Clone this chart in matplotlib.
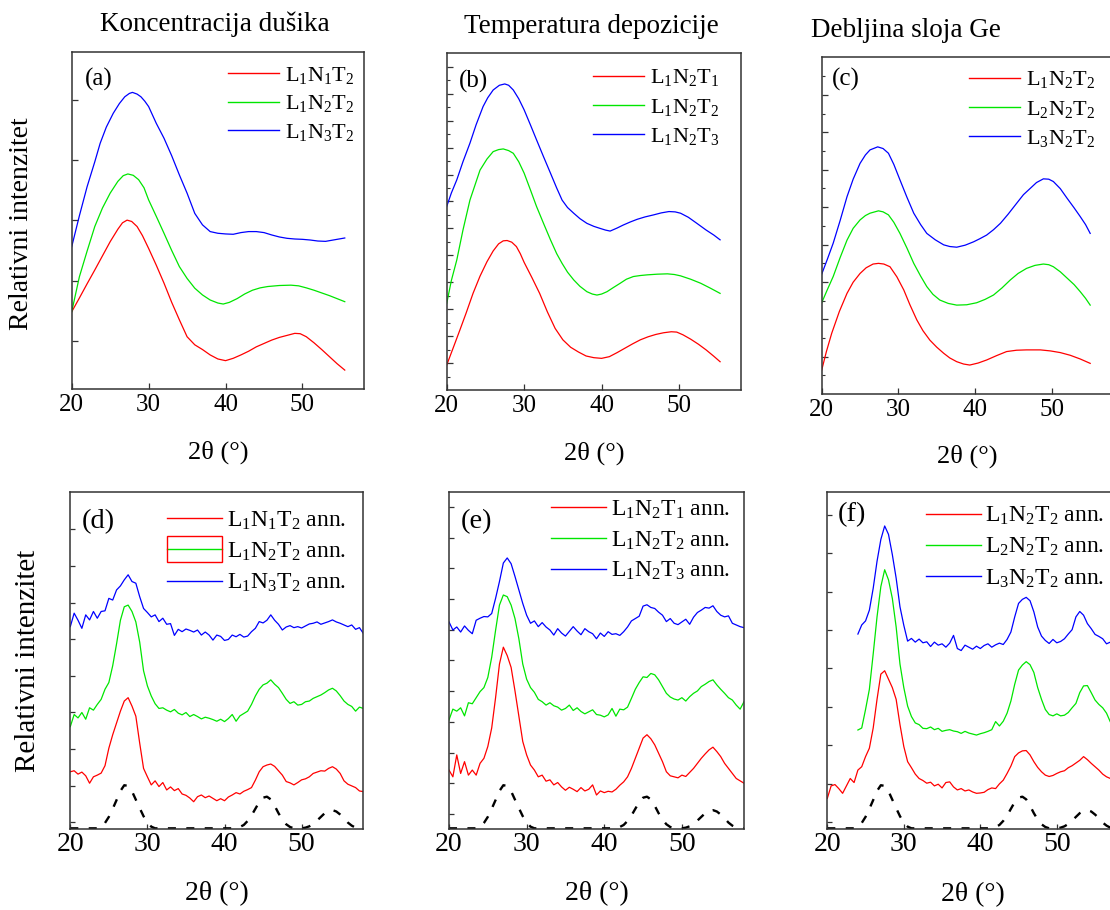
import matplotlib
matplotlib.use("Agg")
import matplotlib.pyplot as plt
from matplotlib.lines import Line2D
from matplotlib.patches import Rectangle

plt.rcParams['font.family'] = ['Liberation Serif', 'DejaVu Serif']
plt.rcParams['mathtext.fontset'] = 'custom'
plt.rcParams['mathtext.rm'] = 'Liberation Serif'
plt.rcParams['mathtext.it'] = 'Liberation Serif:italic'

# ---------------- data: as-deposited (top row) ----------------
a_red_x = [20.0, 21.0, 22.0, 23.0, 24.0, 25.0, 26.0, 26.6, 27.2, 27.8, 28.5, 29.2, 30.0, 31.0, 32.0, 33.0, 34.0, 35.0, 36.0, 37.0, 38.0, 39.0, 40.0, 41.0, 42.0, 43.0, 44.0, 45.0, 46.0, 47.0, 48.0, 49.0, 49.7, 50.5, 51.5, 52.5, 53.5, 54.5, 55.5]
a_red_y = [23.0, 27.1, 31.3, 35.4, 39.6, 43.8, 47.5, 49.4, 50.2, 49.8, 48.3, 45.6, 41.8, 36.8, 31.5, 25.8, 20.6, 15.6, 13.2, 11.8, 10.2, 9.0, 8.5, 9.2, 10.2, 11.3, 12.6, 13.6, 14.6, 15.4, 16.0, 16.6, 16.5, 15.6, 13.8, 11.8, 9.7, 7.6, 5.7]
a_green_x = [20.0, 21.0, 22.0, 23.0, 24.0, 25.0, 26.0, 26.7, 27.3, 28.0, 28.7, 29.4, 30.0, 31.0, 32.0, 33.0, 34.0, 35.0, 36.0, 37.0, 38.0, 39.0, 39.7, 40.5, 41.5, 42.5, 43.5, 44.5, 45.5, 47.0, 48.5, 49.5, 50.5, 51.5, 52.5, 53.5, 54.5, 55.5]
a_green_y = [23.0, 33.4, 41.0, 48.3, 53.8, 58.2, 61.7, 63.4, 63.9, 63.5, 62.2, 59.8, 56.2, 51.3, 46.3, 41.2, 36.4, 32.9, 30.0, 28.0, 26.5, 25.6, 25.3, 25.8, 26.9, 28.3, 29.4, 30.1, 30.5, 30.8, 30.9, 30.7, 30.1, 29.4, 28.6, 27.8, 26.9, 26.0]
a_blue_x = [20.0, 21.0, 22.0, 23.0, 23.7, 24.5, 25.4, 26.2, 26.9, 27.5, 27.9, 28.5, 29.0, 29.5, 30.0, 31.0, 32.0, 33.0, 34.0, 35.0, 36.0, 37.0, 38.0, 39.0, 40.0, 41.0, 42.0, 43.0, 44.0, 45.0, 46.0, 47.0, 48.0, 49.0, 50.0, 51.0, 52.0, 53.0, 54.0, 55.5]
a_blue_y = [42.3, 51.5, 60.1, 67.5, 73.0, 77.8, 81.9, 84.8, 86.8, 87.8, 88.1, 87.6, 86.8, 85.5, 83.9, 78.9, 74.5, 69.3, 63.6, 58.2, 52.2, 48.8, 46.8, 46.3, 46.1, 46.0, 46.5, 46.8, 46.8, 46.5, 45.8, 45.2, 44.8, 44.6, 44.5, 44.3, 44.0, 43.9, 44.3, 44.9]

b_red_x = [20.0, 21.0, 21.7, 22.5, 23.4, 24.3, 25.2, 26.0, 26.7, 27.3, 27.8, 28.4, 29.0, 29.5, 30.0, 31.0, 32.0, 33.0, 34.0, 35.0, 36.0, 37.0, 38.0, 39.0, 40.0, 41.0, 42.0, 43.0, 44.0, 45.0, 46.0, 47.0, 48.0, 49.0, 49.7, 50.5, 51.5, 52.5, 53.5, 54.5, 55.3]
b_red_y = [7.4, 13.5, 17.8, 22.8, 28.7, 33.8, 38.1, 41.3, 43.4, 44.3, 44.4, 43.9, 42.6, 40.5, 37.9, 33.4, 28.7, 23.2, 18.3, 14.9, 12.7, 11.3, 10.1, 9.6, 9.4, 9.9, 11.1, 12.4, 13.7, 14.9, 15.8, 16.5, 17.0, 17.3, 17.2, 16.4, 15.1, 13.6, 11.9, 10.0, 8.4]
b_green_x = [20.0, 20.6, 21.3, 22.1, 23.0, 24.3, 25.2, 26.0, 26.7, 27.3, 28.0, 28.6, 29.3, 30.0, 30.8, 31.6, 32.5, 33.4, 34.2, 34.9, 35.6, 36.4, 37.2, 38.1, 38.8, 39.4, 40.0, 40.7, 41.5, 42.4, 43.2, 44.1, 45.0, 45.9, 47.2, 48.5, 49.4, 50.2, 51.5, 52.8, 54.0, 55.3]
b_green_y = [25.7, 32.5, 38.6, 47.5, 56.4, 65.3, 68.6, 70.8, 71.4, 71.6, 71.1, 70.3, 67.8, 64.4, 59.5, 54.5, 49.5, 44.6, 40.5, 37.6, 35.0, 32.7, 30.8, 29.2, 28.5, 28.2, 28.5, 29.2, 30.4, 31.7, 32.9, 33.7, 34.0, 34.2, 34.4, 34.5, 34.3, 33.9, 32.9, 31.7, 30.3, 28.7]
b_blue_x = [20.0, 20.6, 21.3, 22.1, 23.0, 23.8, 24.7, 25.3, 26.0, 26.8, 27.5, 28.0, 28.6, 29.3, 30.0, 30.8, 31.6, 32.5, 33.4, 34.2, 34.9, 35.6, 36.4, 37.2, 38.1, 39.0, 39.8, 40.5, 41.1, 42.0, 42.8, 43.7, 44.6, 45.6, 46.7, 47.7, 48.7, 49.5, 50.2, 51.2, 52.3, 53.5, 54.5, 55.3]
b_blue_y = [54.5, 58.5, 62.4, 67.8, 73.3, 78.8, 84.2, 86.8, 89.1, 90.5, 90.9, 90.5, 89.1, 86.5, 83.2, 78.8, 74.3, 69.3, 64.4, 60.0, 56.4, 54.2, 52.5, 50.9, 49.5, 48.6, 48.0, 47.5, 47.2, 48.1, 49.0, 49.9, 50.7, 51.4, 52.0, 52.6, 53.0, 52.9, 52.5, 51.3, 49.5, 47.5, 46.0, 44.6]

c_red_x = [20.0, 20.6, 21.3, 22.3, 23.3, 24.1, 25.0, 25.8, 26.7, 27.4, 28.1, 28.9, 29.8, 30.7, 31.5, 32.4, 33.2, 34.1, 35.0, 35.9, 36.7, 37.6, 38.5, 39.3, 40.4, 41.5, 42.8, 44.1, 45.4, 46.7, 48.5, 49.8, 51.1, 52.4, 53.7, 55.0]
c_red_y = [7.1, 12.5, 18.0, 24.5, 29.9, 33.2, 35.8, 37.5, 38.6, 38.8, 38.6, 37.8, 34.8, 30.9, 26.5, 22.0, 18.8, 16.0, 13.9, 12.1, 10.7, 9.6, 8.9, 8.6, 9.2, 10.1, 11.4, 12.6, 13.0, 13.1, 13.1, 12.8, 12.3, 11.5, 10.4, 9.1]
c_green_x = [20.0, 20.7, 21.5, 22.4, 23.3, 24.1, 25.0, 25.7, 26.3, 27.4, 28.0, 28.7, 29.4, 30.2, 31.1, 32.0, 32.9, 33.7, 34.5, 35.4, 36.5, 37.6, 38.9, 40.2, 41.3, 42.4, 43.5, 44.6, 45.6, 46.7, 47.8, 48.9, 49.6, 50.2, 51.1, 52.0, 52.9, 53.7, 54.4, 55.0]
c_green_y = [27.1, 30.8, 34.9, 40.5, 45.7, 49.2, 51.7, 53.0, 53.7, 54.4, 54.1, 53.2, 51.0, 47.7, 43.4, 38.8, 35.0, 31.9, 29.6, 27.9, 26.9, 26.4, 26.5, 27.1, 28.1, 29.4, 31.5, 33.9, 35.8, 37.3, 38.2, 38.6, 38.4, 37.8, 36.3, 34.4, 32.5, 30.4, 28.4, 26.4]
c_blue_x = [20.0, 20.7, 21.5, 22.4, 23.3, 24.1, 25.0, 25.7, 26.3, 27.3, 28.0, 28.7, 29.4, 30.2, 31.1, 32.0, 32.9, 33.7, 34.8, 35.9, 36.7, 37.6, 38.7, 39.8, 40.6, 41.5, 42.4, 43.3, 44.3, 45.4, 46.3, 47.2, 48.0, 48.9, 49.6, 50.2, 51.1, 52.0, 52.9, 53.7, 54.4, 55.0]
c_blue_y = [35.6, 39.8, 44.8, 51.5, 58.6, 63.8, 68.5, 71.0, 72.5, 73.4, 72.9, 71.5, 68.2, 63.6, 58.5, 53.7, 50.3, 47.7, 45.8, 44.3, 43.8, 43.6, 44.2, 45.2, 46.1, 47.2, 48.8, 50.7, 53.4, 56.6, 59.2, 61.1, 62.8, 63.9, 63.8, 63.1, 61.0, 58.1, 55.3, 52.7, 50.3, 47.7]

# ---------------- data: annealed (bottom row) ----------------
two_theta_ann = [20.0, 20.5, 21.0, 21.5, 22.0, 22.5, 23.0, 23.5, 24.0, 24.5, 25.0, 25.5, 26.0, 26.5, 27.0, 27.5,
                 28.0, 28.5, 29.0, 29.5, 30.0, 30.5, 31.0, 31.5, 32.0, 32.5, 33.0, 33.5, 34.0, 34.5, 35.0, 35.5,
                 36.0, 36.5, 37.0, 37.5, 38.0, 38.5, 39.0, 39.5, 40.0, 40.5, 41.0, 41.5, 42.0, 42.5, 43.0, 43.5,
                 44.0, 44.5, 45.0, 45.5, 46.0, 46.5, 47.0, 47.5, 48.0, 48.5, 49.0, 49.5, 50.0, 50.5, 51.0, 51.5,
                 52.0, 52.5, 53.0, 53.5, 54.0, 54.5, 55.0, 55.5, 56.0, 56.5, 57.0, 57.5, 58.0]

d_red = [17.0, 17.3, 16.3, 16.9, 15.8, 13.6, 15.5, 16.0, 16.6, 18.8, 24.0, 28.0, 31.5, 35.0, 38.0, 39.0,
         36.5, 33.5, 25.5, 18.0, 15.5, 13.1, 14.3, 12.6, 13.8, 11.6, 12.5, 11.4, 12.0, 10.4, 10.0, 9.2,
         8.1, 9.6, 10.1, 9.3, 9.8, 9.1, 8.4, 9.0, 8.4, 9.5, 10.1, 10.8, 10.4, 11.2, 11.7, 12.3,
         14.5, 17.0, 18.5, 19.0, 19.3, 18.6, 17.3, 16.0, 14.1, 13.7, 13.1, 13.8, 14.6, 14.9, 15.5, 16.5,
         16.9, 17.3, 17.2, 18.0, 18.5, 17.8, 16.5, 14.3, 13.3, 12.8, 12.3, 11.3, 11.1]
d_green = [30.4, 34.0, 33.0, 34.6, 32.6, 36.0, 35.3, 37.0, 38.5, 41.5, 43.5, 48.5, 55.0, 62.0, 66.0, 66.5,
           64.6, 61.5, 55.5, 47.0, 42.5, 39.5, 37.2, 35.8, 36.0, 35.3, 34.8, 35.5, 34.4, 33.9, 34.6, 33.4,
           34.0, 33.4, 32.7, 33.2, 32.9, 32.5, 32.0, 32.6, 31.9, 32.8, 34.0, 32.0, 33.6, 34.3, 35.0, 37.0,
           39.5, 41.5, 42.8, 43.3, 44.3, 43.0, 42.0, 40.3, 38.5, 37.3, 37.8, 36.8, 37.0, 37.8, 38.0, 38.8,
           39.3, 39.8, 40.5, 41.3, 41.8, 41.0, 39.6, 38.0, 37.0, 36.4, 35.0, 36.2, 35.8]
d_blue = [60.1, 64.1, 62.0, 59.6, 63.6, 62.1, 64.6, 62.6, 64.6, 64.8, 68.5, 68.0, 71.0, 72.2, 74.0, 75.5,
          73.5, 73.0, 69.0, 65.5, 64.3, 63.0, 63.6, 61.6, 62.6, 60.8, 61.0, 57.5, 59.3, 58.6, 59.4, 59.0,
          58.5, 59.1, 57.6, 58.5, 57.6, 56.1, 57.6, 57.2, 56.0, 56.3, 57.6, 57.1, 57.8, 57.0, 57.3, 58.6,
          59.6, 61.6, 61.2, 62.0, 63.6, 62.0, 60.8, 59.1, 60.0, 60.4, 59.8, 60.1, 59.7, 60.3, 60.9, 61.1,
          61.5, 60.8, 61.2, 61.6, 62.1, 61.5, 61.1, 60.6, 60.1, 60.6, 59.3, 59.8, 58.1]

e_red = [17.5, 15.5, 22.0, 16.5, 20.0, 16.0, 17.5, 16.0, 19.5, 21.0, 24.5, 30.0, 39.0, 49.0, 54.0, 51.5,
         48.0, 41.0, 33.5, 26.0, 22.0, 19.0, 17.5, 15.5, 16.0, 14.2, 14.6, 13.1, 13.8, 12.5, 11.5, 12.4,
         11.8, 11.1, 12.3, 11.3, 11.8, 13.1, 10.1, 11.3, 10.8, 11.2, 11.0, 11.8, 13.0, 14.0, 15.5, 18.0,
         21.0, 24.0, 27.0, 28.0, 26.8, 25.0, 22.5, 20.0, 17.0, 15.8, 15.5, 15.2, 16.0, 15.6, 16.8, 18.0,
         19.5, 21.0, 22.3, 23.5, 24.3, 23.0, 21.5, 19.5, 18.0, 16.5, 15.0, 14.3, 13.6]
e_green = [32.4, 35.6, 35.0, 36.0, 33.6, 37.5, 37.2, 39.0, 40.8, 42.0, 45.0, 51.0, 59.0, 66.5, 69.5, 69.0,
           66.5, 62.5, 56.5, 49.0, 44.5, 42.0, 40.6, 38.5, 37.8, 36.8, 37.5, 36.6, 36.2, 35.3, 35.8, 36.8,
           35.2, 36.0, 34.9, 34.2, 34.8, 35.4, 34.0, 33.8, 33.3, 33.9, 35.8, 33.5, 35.6, 35.4, 36.2, 38.8,
           41.5, 43.5, 45.2, 45.0, 46.2, 45.8, 44.3, 42.3, 40.3, 39.2, 38.6, 38.3, 39.0, 38.0, 39.3, 40.3,
           41.0, 42.3, 43.0, 43.8, 44.3, 42.8, 41.5, 40.3, 39.0, 38.3, 36.8, 35.6, 37.8]
e_blue = [61.5, 59.1, 60.0, 58.5, 60.3, 59.0, 58.0, 62.0, 62.6, 63.1, 63.0, 64.0, 68.5, 73.5, 79.0, 80.5,
          78.8, 75.0, 71.0, 67.0, 63.5, 61.1, 61.8, 60.1, 61.3, 60.0, 59.1, 57.6, 59.5, 58.2, 57.3, 58.7,
          60.1, 58.8, 57.7, 59.5, 58.6, 58.0, 56.5, 58.2, 57.2, 58.6, 57.8, 58.0, 57.5, 58.6, 60.0, 61.8,
          62.5, 63.2, 66.2, 66.6, 65.8, 65.5, 64.4, 63.5, 61.6, 62.5, 61.1, 60.7, 61.5, 62.3, 60.8, 62.9,
          64.3, 65.0, 65.8, 65.6, 66.3, 64.6, 63.5, 63.0, 63.3, 61.1, 60.6, 60.1, 59.8]

f_red = [9.1, 12.8, 13.2, 12.0, 10.6, 12.8, 15.0, 13.8, 17.5, 18.5, 21.5, 24.0, 30.0, 38.5, 46.0, 47.0,
         44.5, 42.0, 38.5, 31.0, 24.5, 20.0, 18.2, 16.3, 15.0, 14.4, 13.6, 13.9, 12.8, 13.3, 12.2, 13.8,
         14.0, 12.5, 11.6, 12.0, 11.3, 11.6, 11.0, 10.6, 10.7, 10.9, 11.7, 12.2, 12.0, 13.4, 14.5, 16.5,
         18.7, 21.5, 22.6, 23.2, 23.3, 22.0, 20.0, 18.3, 17.0, 16.0, 15.6, 15.9, 16.5, 17.0, 17.3, 18.2,
         18.8, 19.6, 20.4, 21.5, 20.6, 19.5, 18.5, 17.5, 16.3, 15.5, 15.0, 14.8, 14.5]
# green and blue in (f) start at 24 degrees
f_green = [29.4, 30.0, 35.5, 41.5, 52.0, 63.0, 72.0, 77.0,
           74.0, 68.5, 60.0, 49.0, 42.0, 36.5, 33.4, 31.5, 31.0, 29.9, 29.8, 30.3, 29.5, 29.9, 29.0, 29.3,
           29.5, 29.1, 28.9, 28.4, 29.0, 28.5, 28.2, 27.9, 28.3, 28.6, 29.0, 29.5, 31.9, 30.6, 32.0, 34.4,
           38.0, 43.0, 47.2, 48.7, 49.7, 48.8, 46.5, 42.0, 38.5, 35.5, 34.0, 33.6, 34.2, 33.6, 33.8, 34.6,
           36.0, 37.3, 40.5, 42.5, 42.6, 40.5, 38.3, 37.0, 36.0, 34.4, 31.8, 30.5, 29.5]
f_blue = [57.9, 60.6, 61.8, 65.0, 71.5, 79.5, 86.0, 90.0,
          87.5, 81.5, 74.5, 66.0, 60.5, 55.8, 56.6, 55.5, 56.4, 55.3, 55.6, 54.2, 55.5, 54.6, 55.0, 54.0,
          55.2, 57.5, 53.6, 53.0, 54.6, 54.0, 53.4, 54.3, 53.6, 54.5, 55.0, 54.0, 54.7, 55.2, 54.8, 56.3,
          58.5, 63.0, 67.0, 68.2, 68.8, 67.8, 64.5, 60.0, 57.3, 56.0, 55.1, 56.3, 55.3, 55.7, 56.5, 57.9,
          59.2, 63.0, 64.6, 63.5, 61.0, 59.5, 57.8, 57.2, 56.5, 55.0, 55.5, 54.5, 54.0]

# reference (dashed) pattern
ref_x = [20.0, 23.5, 24.0, 24.5, 25.0, 25.5, 26.0, 26.5, 27.0, 27.5, 28.0, 28.5, 29.0, 29.5, 30.0, 30.5, 31.0,
         41.0, 41.5, 42.0, 42.5, 43.0, 43.5, 44.0, 44.5, 45.0, 45.5, 46.0, 46.5, 47.0, 47.5, 48.0, 48.5, 49.0,
         50.0, 50.5, 51.0, 51.5, 52.0, 52.5, 53.0, 53.5, 54.0, 54.5, 55.0, 55.5, 56.0, 56.5, 57.0, 58.0]
ref_y = [0.2, 0.2, 0.5, 1.8, 3.6, 6.0, 8.6, 11.3, 13.0, 12.8, 11.2, 8.7, 6.2, 3.8, 1.9, 0.7, 0.2,
         0.2, 0.3, 0.6, 1.2, 2.4, 4.0, 6.0, 8.0, 9.3, 9.6, 8.8, 6.9, 4.7, 2.8, 1.4, 0.6, 0.2,
         0.2, 0.4, 0.8, 1.5, 2.5, 3.6, 4.7, 5.4, 5.6, 5.2, 4.3, 3.2, 1.9, 1.0, 0.4, 0.2]

titles = ["Koncentracija dušika", "Temperatura depozicije", "Debljina sloja Ge"]
ylabel_text = "Relativni intenzitet"
xlabel_text = "2θ (°)"
x_ticks = [20, 30, 40, 50]

labels_a = [r"$\mathrm{L_1N_1T_2}$", r"$\mathrm{L_1N_2T_2}$", r"$\mathrm{L_1N_3T_2}$"]
labels_b = [r"$\mathrm{L_1N_2T_1}$", r"$\mathrm{L_1N_2T_2}$", r"$\mathrm{L_1N_2T_3}$"]
labels_c = [r"$\mathrm{L_1N_2T_2}$", r"$\mathrm{L_2N_2T_2}$", r"$\mathrm{L_3N_2T_2}$"]
labels_d = [r"$\mathrm{L_1N_1T_2}$ ann.", r"$\mathrm{L_1N_2T_2}$ ann.", r"$\mathrm{L_1N_3T_2}$ ann."]
labels_e = [r"$\mathrm{L_1N_2T_1}$ ann.", r"$\mathrm{L_1N_2T_2}$ ann.", r"$\mathrm{L_1N_2T_3}$ ann."]
labels_f = [r"$\mathrm{L_1N_2T_2}$ ann.", r"$\mathrm{L_2N_2T_2}$ ann.", r"$\mathrm{L_3N_2T_2}$ ann."]

colors = ['#ff0000', '#00e600', '#0000ff']

# ---------------- layout ----------------
W, H = 1110, 910
fig = plt.figure(figsize=(W / 100, H / 100), dpi=100)


def add_ax(l, t, r, b):
    return fig.add_axes([l / W, 1 - b / H, (r - l) / W, (b - t) / H])


def style(ax, major, minor, tick_fs, tick_len, pad):
    ax.set_xlim(20, 58)
    ax.set_ylim(0, 100)
    ax.set_xticks(x_ticks)
    ax.set_xticklabels([str(v) for v in x_ticks])
    ax.set_yticks(major)
    ax.set_yticks(minor, minor=True)
    ax.tick_params(axis='both', which='major', direction='in', length=tick_len, width=0.9,
                   color='#333333', labelsize=tick_fs, pad=pad, labelleft=False)
    ax.tick_params(axis='y', which='minor', direction='in', length=2.2, width=0.8, color='#333333')
    ax.tick_params(axis='x', which='minor', bottom=False)
    for s in ax.spines.values():
        s.set_color('#333333')
        s.set_linewidth(1.1)


def add_legend(ax, labels, hx, my, fs, hl, htp, ls):
    handles = [Line2D([], [], color=c, lw=1.0) for c in colors]
    return ax.legend(handles, labels, loc='center left', bbox_to_anchor=(hx / W, 1 - my / H),
                     bbox_transform=fig.transFigure, frameon=False, borderpad=0, borderaxespad=0,
                     handlelength=hl, handletextpad=htp, labelspacing=ls, fontsize=fs)


lw = 0.9
dash_style = (0, (3.4, 4.4))
# top row
ax_a = add_ax(71.7, 52.3, 364.0, 389.3)
ax_b = add_ax(446.7, 53.3, 741.0, 390.0)
ax_c = add_ax(821.7, 57.3, 1113.2, 394.0)
# bottom row
ax_d = add_ax(70.3, 492.3, 363.3, 829.0)
ax_e = add_ax(449.0, 492.3, 744.0, 829.0)
ax_f = add_ax(827.3, 492.3, 1118.0, 829.0)

for ax, xs, ys in [(ax_a, [a_red_x, a_green_x, a_blue_x], [a_red_y, a_green_y, a_blue_y]),
                   (ax_b, [b_red_x, b_green_x, b_blue_x], [b_red_y, b_green_y, b_blue_y]),
                   (ax_c, [c_red_x, c_green_x, c_blue_x], [c_red_y, c_green_y, c_blue_y])]:
    for x, y, c in zip(xs, ys, colors):
        ax.plot(x, y, color=c, lw=lw)

for ax, ys in [(ax_d, [d_red, d_green, d_blue]), (ax_e, [e_red, e_green, e_blue])]:
    ax.plot(ref_x, ref_y, color='black', lw=1.7, linestyle=dash_style)
    for y, c in zip(ys, colors):
        ax.plot(two_theta_ann, y, color=c, lw=lw)

ax_f.plot(ref_x, ref_y, color='black', lw=1.7, linestyle=dash_style)
ax_f.plot(two_theta_ann, f_red, color=colors[0], lw=lw)
ax_f.plot(two_theta_ann[8:], f_green, color=colors[1], lw=lw)
ax_f.plot(two_theta_ann[8:], f_blue, color=colors[2], lw=lw)

style(ax_a, [14.4 + 17.86 * k for k in range(5)], [], 18, 4.5, 3.5)
style(ax_b, [8.0 * k for k in range(1, 13)], [4.0 + 8.0 * k for k in range(12)], 18, 4.5, 3.5)
style(ax_c, [11.1 * k for k in range(1, 9)], [5.55 + 11.1 * k for k in range(9)], 18, 4.5, 3.5)
style(ax_d, [2.0 + 10.87 * k for k in range(9)], [], 20, 3.5, 2.5)
style(ax_e, [4.45 + 9.12 * k for k in range(11)], [], 20, 3.5, 2.5)
style(ax_f, [2.08 + 11.4 * k for k in range(9)], [], 20, 3.5, 2.5)

# panel letters
for ax, txt, dx, dy, fs in [(ax_a, '(a)', 13.3, 27.0, 18), (ax_b, '(b)', 12.3, 28.4, 18),
                            (ax_c, '(c)', 10.0, 21.7, 18), (ax_d, '(d)', 11.4, 29.4, 20.5),
                            (ax_e, '(e)', 12.0, 29.4, 20.5), (ax_f, '(f)', 10.0, 22.7, 20.5)]:
    bb = ax.get_position()
    wpx, hpx = bb.width * W, bb.height * H
    ax.text(dx / wpx, 1 - dy / hpx, txt, transform=ax.transAxes, ha='left', va='center', fontsize=fs)

# x labels
for ax, dy, fs in [(ax_a, 62.5, 19), (ax_b, 63.3, 19), (ax_c, 62.7, 19),
                   (ax_d, 64.3, 20), (ax_e, 64.3, 20), (ax_f, 66.0, 20)]:
    bb = ax.get_position()
    ax.text(0.5, -dy / (bb.height * H), xlabel_text, transform=ax.transAxes,
            ha='center', va='center', fontsize=fs)

# titles
fig.text(215 / W, 1 - 31 / H, titles[0], ha='center', va='baseline', fontsize=19.5)
fig.text(591.7 / W, 1 - 33.3 / H, titles[1], ha='center', va='baseline', fontsize=19.5)
fig.text(905.8 / W, 1 - 36.7 / H, titles[2], ha='center', va='baseline', fontsize=19.5)

# y labels
fig.text(21.7 / W, 1 - 223.5 / H, ylabel_text, rotation=90, ha='center', va='center', fontsize=20)
fig.text(28.0 / W, 1 - 661.0 / H, ylabel_text, rotation=90, ha='center', va='center', fontsize=21)

# legends
add_legend(ax_a, labels_a, 228, 104.0, 16, 2.3, 0.27, 0.34)
add_legend(ax_b, labels_b, 593, 107.3, 16, 2.3, 0.27, 0.38)
add_legend(ax_c, labels_c, 969, 109.3, 16, 2.3, 0.27, 0.38)
leg_d = add_legend(ax_d, labels_d, 167, 551.7, 17, 2.33, 0.2, 0.38)
add_legend(ax_e, labels_e, 551, 540.5, 17, 2.33, 0.2, 0.36)
add_legend(ax_f, labels_f, 925.7, 547.3, 17, 2.33, 0.2, 0.38)

# red box drawn around the second legend handle of panel (d)
fig.canvas.draw()
renderer = fig.canvas.get_renderer()
hb = leg_d.legend_handles[1].get_window_extent(renderer)
yc = 0.5 * (hb.y0 + hb.y1)
box_h = 25.6
fig.add_artist(Rectangle((hb.x0 / W, (yc - box_h / 2) / H), (hb.x1 - hb.x0) / W, box_h / H,
                         transform=fig.transFigure, fill=False, edgecolor='#ff0000', lw=1.0))

fig.savefig('out.png', dpi=100)
